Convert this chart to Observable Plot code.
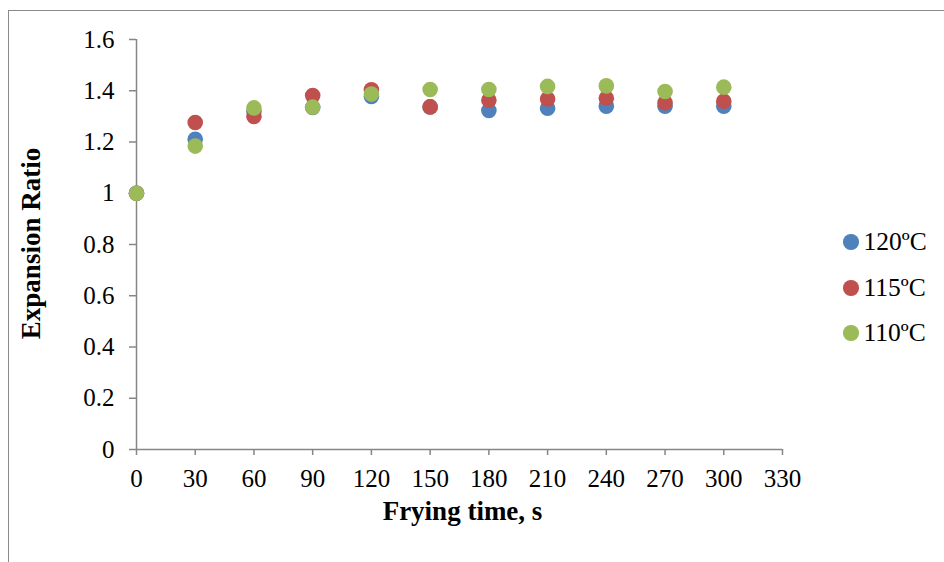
<!DOCTYPE html>
<html>
<head>
<meta charset="utf-8">
<script src="https://cdn.jsdelivr.net/npm/d3@7"></script>
<script src="https://cdn.jsdelivr.net/npm/@observablehq/plot@0.6"></script>
<style>
html, body { margin: 0; padding: 0; background: #fff; }
#wrap { position: relative; width: 944px; height: 562px; overflow: hidden; font-family: "Liberation Serif", "Times New Roman", serif; }
#frame { position: absolute; left: 7.5px; top: 9.5px; width: 1000px; height: 700px; border: 1px solid #8a8a8a; box-sizing: border-box; }
#chart { position: absolute; left: 0; top: 0; }
.leg { position: absolute; left: 843px; height: 26px; display: flex; align-items: center; font-size: 25.5px; color: #000; white-space: nowrap; font-family: "Liberation Serif", "Times New Roman", serif; }
.leg .sw { width: 15.5px; height: 15.5px; border-radius: 50%; margin-right: 5px; }
</style>
</head>
<body>
<div id="wrap">
  <div id="frame"></div>
  <div id="chart"></div>
  <div id="legend"></div>
</div>
<script>
// Data
const times = [0, 30, 60, 90, 120, 150, 180, 210, 240, 270, 300];
const xTicks = [0, 30, 60, 90, 120, 150, 180, 210, 240, 270, 300, 330];
const yTicks = [0, 0.2, 0.4, 0.6, 0.8, 1, 1.2, 1.4, 1.6];
const seriesNames = ["120ºC", "115ºC", "110ºC"];
const seriesColors = ["#4F81BD", "#C0504D", "#9BBB59"];
const ratio120 = [1, 1.211, 1.32, 1.335, 1.378, 1.337, 1.323, 1.332, 1.340, 1.340, 1.340];
const ratio115 = [1, 1.276, 1.300, 1.381, 1.404, 1.337, 1.363, 1.368, 1.371, 1.353, 1.359];
const ratio110 = [1, 1.184, 1.333, 1.336, 1.387, 1.405, 1.405, 1.417, 1.419, 1.397, 1.414];
const xTitle = "Frying time, s";
const yTitle = "Expansion Ratio";

const allSeries = [ratio120, ratio115, ratio110];
const rows = [];
allSeries.forEach((vals, si) => {
  vals.forEach((v, i) => rows.push({ series: seriesNames[si], t: times[i], r: v }));
});

const axisColor = "#868686";
const fontFam = "'Liberation Serif','Times New Roman',serif";

const plot = Plot.plot({
  width: 944,
  height: 562,
  marginLeft: 136,
  marginRight: 162,
  marginTop: 39,
  marginBottom: 113,
  style: { fontFamily: fontFam, color: "#000", background: "transparent", overflow: "visible" },
  x: { domain: [0, 330] },
  y: { domain: [0, 1.6] },
  color: { domain: seriesNames, range: seriesColors },
  marks: [
    Plot.axisY({ ticks: yTicks, tickSize: 7, tickPadding: 15, tickFormat: d => String(+d.toFixed(1)),
      fontSize: 25, fontFamily: fontFam, fontVariant: "normal", stroke: axisColor, strokeWidth: 1.5, label: null, fill: "#000" }),
    Plot.axisX({ ticks: xTicks, tickSize: 6, tickPadding: 14, tickFormat: d => String(d),
      fontSize: 25, fontFamily: fontFam, fontVariant: "normal", stroke: axisColor, strokeWidth: 1.5, label: null, fill: "#000" }),
    Plot.ruleX([0], { stroke: axisColor, strokeWidth: 1.5 }),
    Plot.ruleY([0], { stroke: axisColor, strokeWidth: 1.5 }),
    Plot.dot(rows, { x: "t", y: "r", fill: "series", r: 7.8, stroke: null }),
    Plot.text([xTitle], { text: d => d, frameAnchor: "bottom", dy: 70, dx: 3, fontSize: 27, fontFamily: fontFam, fontWeight: "bold", fill: "#000" }),
    Plot.text([yTitle], { text: d => d, frameAnchor: "left", textAnchor: "middle", rotate: -90, dx: -105, dy: -1, fontSize: 27, fontFamily: fontFam, fontWeight: "bold", fill: "#000" })
  ]
});
document.getElementById("chart").appendChild(plot);

// Legend
const legend = document.getElementById("legend");
const legendY = [242, 288, 333];
seriesNames.forEach((name, i) => {
  const item = document.createElement("div");
  item.className = "leg";
  item.style.top = (legendY[i] - 13) + "px";
  const sw = document.createElement("span");
  sw.className = "sw";
  sw.style.background = seriesColors[i];
  const lab = document.createElement("span");
  lab.textContent = name;
  item.appendChild(sw);
  item.appendChild(lab);
  legend.appendChild(item);
});
</script>
</body>
</html>
